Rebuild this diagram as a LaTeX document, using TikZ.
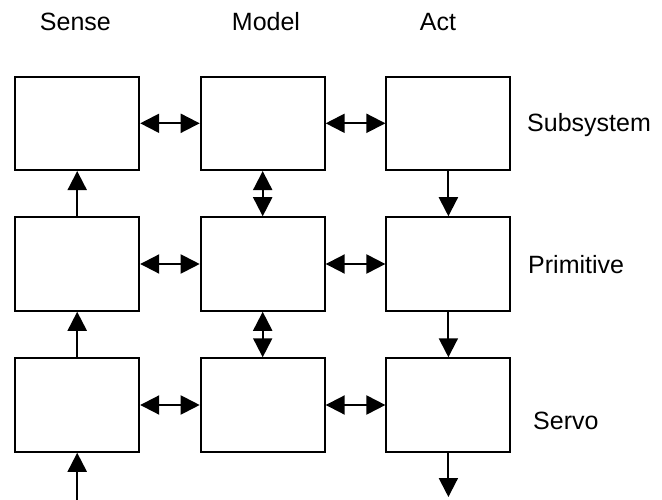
\documentclass[tikz,border=0pt]{standalone}
\usepackage{fontspec}
\setmainfont{Liberation Sans}
\usetikzlibrary{arrows.meta}
\begin{document}
\begin{tikzpicture}[x=1pt,y=-1pt,
  block/.style={draw,line width=2pt,minimum width=124pt,minimum height=93.5pt,inner sep=0pt},
  lbl/.style={font=\fontsize{25}{30}\selectfont,inner sep=0pt},
  link/.style={line width=2pt,arrows={-Triangle[length=19pt,width=19pt]}},
  dlink/.style={line width=2pt,arrows={Triangle[length=19pt,width=19pt]-Triangle[length=19pt,width=19pt]}}]
\useasboundingbox (0,0) rectangle (662,500);

% column headings
\node[lbl,anchor=base] (hs) at (75.4,31) {Sense};
\node[lbl,anchor=base] (hm) at (266,31) {Model};
\node[lbl,anchor=base] (ha) at (438,31) {Act};

% grid of blocks: sense / model / act for each level
\node[block] (s1) at (77.2,123.3) {};
\node[block] (m1) at (262.7,123.3) {};
\node[block] (a1) at (448.4,123.3) {};
\node[block] (s2) at (77.2,264) {};
\node[block] (m2) at (262.7,264) {};
\node[block] (a2) at (448.4,264) {};
\node[block] (s3) at (77.2,405) {};
\node[block] (m3) at (262.7,405) {};
\node[block] (a3) at (448.4,405) {};

% level names
\node[lbl,anchor=base west] (ls) at (527,131.7) {Subsystem};
\node[lbl,anchor=base west] (lp) at (528,273.3) {Primitive};
\node[lbl,anchor=base west] (lv) at (533,429.3) {Servo};

% horizontal exchanges
\draw[dlink] (s1.east) -- (m1.west);
\draw[dlink] (m1.east) -- (a1.west);
\draw[dlink] (s2.east) -- (m2.west);
\draw[dlink] (m2.east) -- (a2.west);
\draw[dlink] (s3.east) -- (m3.west);
\draw[dlink] (m3.east) -- (a3.west);

% sensing flows upward
\coordinate (sin) at (77.2,500);
\draw[link] (sin) -- (s3.south);
\draw[link] (s3.north) -- (s2.south);
\draw[link] (s2.north) -- (s1.south);

% model levels exchange both ways
\draw[dlink] (m1.south) -- (m2.north);
\draw[dlink] (m2.south) -- (m3.north);

% actions flow downward
\coordinate (aout) at (448.4,497);
\draw[link] (a1.south) -- (a2.north);
\draw[link] (a2.south) -- (a3.north);
\draw[link] (a3.south) -- (aout);
\end{tikzpicture}
\end{document}
